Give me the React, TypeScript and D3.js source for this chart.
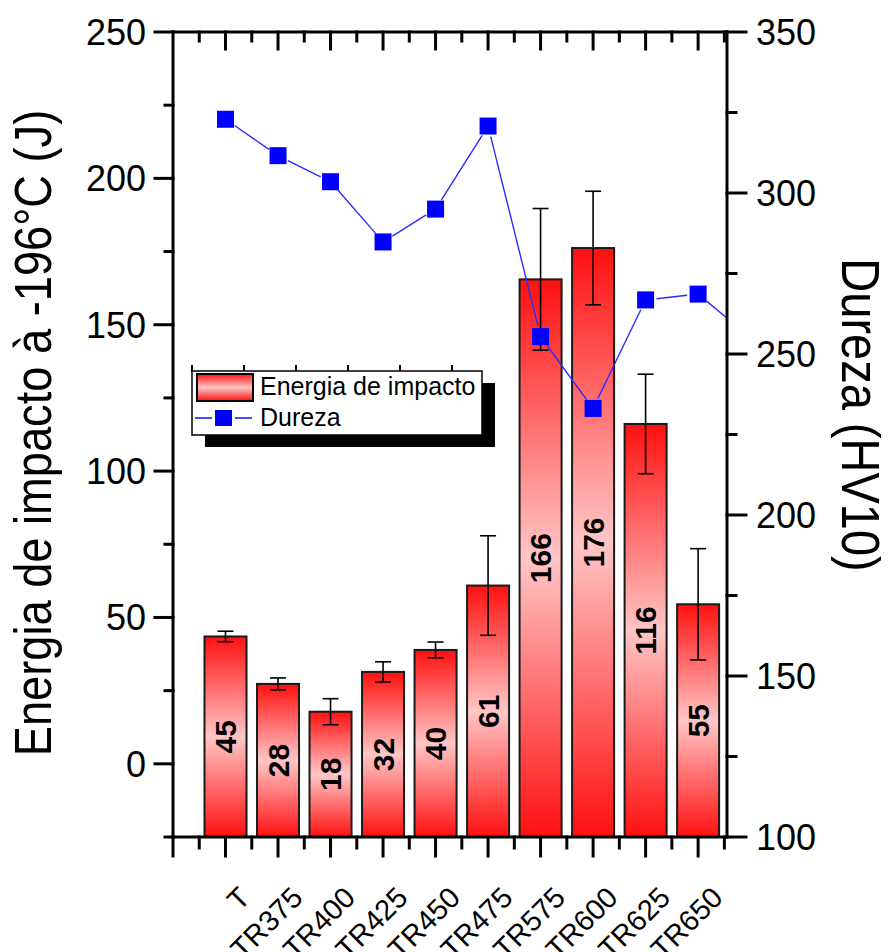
import React from "react";
import * as d3 from "d3";

const categories = ["T", "TR375", "TR400", "TR425", "TR450", "TR475", "TR575", "TR600", "TR625", "TR650"];
const energy = [43.5, 27.3, 17.8, 31.4, 38.9, 60.9, 165.5, 176.2, 116.1, 54.5];
const energyErr = [1.8, 2.05, 4.45, 3.45, 2.7, 17, 24.2, 19.4, 17, 19];
const energyLabels = ["45", "28", "18", "32", "40", "61", "166", "176", "116", "55"];
// hardness has one extra point beyond the last category (clipped by the frame)
const hardness = [322.9, 311.6, 303.5, 284.8, 295, 320.8, 255.4, 233.1, 266.8, 268.6, 255];
const leftTicks = [0, 50, 100, 150, 200, 250];
const leftMinor = [-25, 25, 75, 125, 175, 225];
const rightTicks = [100, 150, 200, 250, 300, 350];
const rightMinor = [125, 175, 225, 275, 325];

const W = 888, H = 952;
const L = 173, R = 727, T = 32, B = 837;
const FONT = "Arial, 'Liberation Sans', sans-serif";

export default function App() {
  const x = d3.scaleLinear().domain([0, 10.55]).range([L, R]);
  const yL = d3.scaleLinear().domain([-25, 250]).range([B, T]);
  const yR = d3.scaleLinear().domain([100, 350]).range([B, T]);
  const barW = x(0.8) - x(0);
  const xMajor = d3.range(0, 11);
  const xMinor = d3.range(0.5, 10.6, 1);

  const pts = hardness.map((v, i) => [x(i + 1), yR(v)]);
  const gap = 11;
  const segs = pts.slice(0, -1).map((p, i) => {
    const q = pts[i + 1];
    const dx = q[0] - p[0], dy = q[1] - p[1];
    const len = Math.hypot(dx, dy);
    const ux = dx / len, uy = dy / len;
    return [p[0] + ux * gap, p[1] + uy * gap, q[0] - ux * gap, q[1] - uy * gap];
  });

  const lw = 3;
  const legX = 192, legY = 371, legW = 290, legH = 64;

  return (
    <svg width={W} height={H} style={{ position: "absolute", left: 0, top: 0, background: "#fff" }} fontFamily={FONT}>
      <defs>
        <linearGradient id="barGrad" x1="0" y1="0" x2="0" y2="1">
          <stop offset="0" stopColor="#ff1010" />
          <stop offset="0.5" stopColor="#ffc6c6" />
          <stop offset="1" stopColor="#ff1010" />
        </linearGradient>
        <clipPath id="plotClip">
          <rect x={L} y={T} width={R - L} height={B - T} />
        </clipPath>
      </defs>
      <rect x={0} y={0} width={W} height={H} fill="#fff" />

      {/* bars */}
      {energy.map((v, i) => (
        <rect key={"b" + i} x={x(i + 1) - barW / 2} y={yL(v)} width={barW} height={B - yL(v)}
          fill="url(#barGrad)" stroke="#1a1a1a" strokeWidth={2} />
      ))}
      {/* value labels */}
      {energy.map((v, i) => {
        const cy = (yL(v) + B) / 2;
        const cx = x(i + 1);
        return (
          <text key={"vl" + i} transform={`translate(${cx},${cy}) rotate(-90)`} textAnchor="middle" dy="0.36em"
            fontSize={30} fontWeight="bold" fill="#000">{energyLabels[i]}</text>
        );
      })}
      {/* error bars */}
      {energy.map((v, i) => {
        const cx = x(i + 1);
        const y1 = yL(v + energyErr[i]), y2 = yL(v - energyErr[i]);
        return (
          <g key={"e" + i} stroke="#000" strokeWidth={1.6}>
            <line x1={cx} x2={cx} y1={y1} y2={y2} />
            <line x1={cx - 8} x2={cx + 8} y1={y1} y2={y1} />
            <line x1={cx - 8} x2={cx + 8} y1={y2} y2={y2} />
          </g>
        );
      })}

      {/* hardness line */}
      <g clipPath="url(#plotClip)">
        {segs.map((s, i) => (
          <line key={"s" + i} x1={s[0]} y1={s[1]} x2={s[2]} y2={s[3]} stroke="#2b2bff" strokeWidth={1.4} />
        ))}
        {pts.map((p, i) => (
          <rect key={"m" + i} x={p[0] - 8.5} y={p[1] - 8.5} width={17} height={17} fill="#0000ff" />
        ))}
      </g>

      {/* axes frame */}
      <g stroke="#000" strokeWidth={lw} strokeLinecap="square">
        <line x1={L} x2={L} y1={T} y2={B} />
        <line x1={R} x2={R} y1={T} y2={B} />
        <line x1={L} x2={R} y1={T} y2={T} />
        <line x1={L} x2={R} y1={B} y2={B} />
        {xMajor.map((t) => <line key={"bx" + t} x1={x(t)} x2={x(t)} y1={B} y2={B + 19} />)}
        {xMinor.map((t) => <line key={"bm" + t} x1={x(t)} x2={x(t)} y1={B} y2={B + 11} />)}
        {xMajor.slice(1).map((t) => <line key={"tx" + t} x1={x(t)} x2={x(t)} y1={T} y2={T + 17} />)}
        {xMinor.map((t) => <line key={"tm" + t} x1={x(t)} x2={x(t)} y1={T} y2={T + 9} />)}
        {leftTicks.map((t) => <line key={"ly" + t} x1={L - 18} x2={L} y1={yL(t)} y2={yL(t)} />)}
        {leftMinor.map((t) => <line key={"lm" + t} x1={L - 8} x2={L} y1={yL(t)} y2={yL(t)} />)}
        {rightTicks.map((t) => <line key={"ry" + t} x1={R} x2={R + 19} y1={yR(t)} y2={yR(t)} />)}
        {rightMinor.map((t) => <line key={"rm" + t} x1={R} x2={R + 9} y1={yR(t)} y2={yR(t)} />)}
      </g>

      {/* tick labels */}
      {leftTicks.map((t) => (
        <text key={"lt" + t} x={146} y={yL(t)} dy="0.36em" textAnchor="end" fontSize={36} fill="#000">{t}</text>
      ))}
      {rightTicks.map((t) => (
        <text key={"rt" + t} x={756} y={yR(t)} dy="0.36em" textAnchor="start" fontSize={36} fill="#000">{t}</text>
      ))}
      {categories.map((c, i) => (
        <text key={"c" + i} transform={`translate(${x(i + 1) + 12},${885}) rotate(-45)`} textAnchor="end"
          dy="0.7em" fontSize={29} fill="#000">{c}</text>
      ))}

      {/* axis titles */}
      <text transform={`translate(51,433) rotate(-90) scale(0.87,1)`} textAnchor="middle" fontSize={52} fill="#000">
        Energia de impacto à -196°C (J)
      </text>
      <text transform={`translate(842,415) rotate(90) scale(0.87,1)`} textAnchor="middle" fontSize={54} fill="#000">
        Dureza (HV10)
      </text>

      {/* legend */}
      <g>
        {d3.range(6).map((k) => (
          <line key={"lgt" + k} x1={legX + k * 52} x2={legX + k * 52} y1={365} y2={372} stroke="#000" strokeWidth={2} />
        ))}
        <rect x={legX + 13} y={legY + 12} width={legW} height={legH} fill="#000" />
        <rect x={legX} y={legY} width={legW} height={legH} fill="#fff" stroke="#000" strokeWidth={1.5} />
        <rect x={197} y={374} width={56} height={27} fill="url(#barGrad)" stroke="#000" strokeWidth={2} />
        <text x={260} y={395} fontSize={25} fill="#000">Energia de impacto</text>
        <line x1={195} x2={212} y1={418} y2={418} stroke="#0000ff" strokeWidth={1.4} />
        <line x1={235} x2={252} y1={418} y2={418} stroke="#0000ff" strokeWidth={1.4} />
        <rect x={215} y={410} width={17} height={16} fill="#0000ff" />
        <text x={260} y={426} fontSize={25} fill="#000">Dureza</text>
      </g>
    </svg>
  );
}
